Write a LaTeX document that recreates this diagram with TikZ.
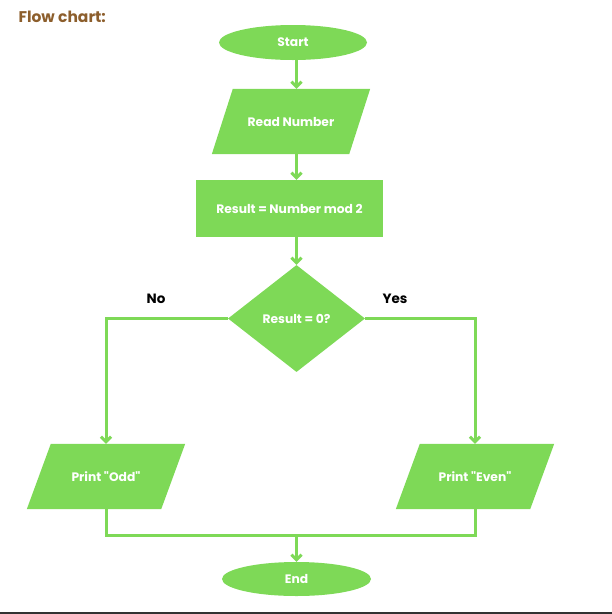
\documentclass[tikz,border=0pt]{standalone}
\usepackage{fontspec}
\setmainfont{Poppins}
\usetikzlibrary{shapes.geometric, arrows.meta, calc, backgrounds}

\definecolor{boxgreen}{RGB}{126,217,87}
\definecolor{titlebrown}{RGB}{140,94,44}
\definecolor{rulegray}{RGB}{51,51,51}

% fill a slanted box behind an io node
\newcommand{\slantfill}[2]{%
    \fill[boxgreen] ($(#1.north west)+(#2,0)$) -- ($(#1.north east)+(#2,0)$)
        -- ($(#1.south east)-(#2,0)$) -- ($(#1.south west)-(#2,0)$) -- cycle;}

\begin{document}
\begin{tikzpicture}[x=1pt, y=-1pt, line cap=butt]

    % let's define some key values
    \def\xline{296.5}
    \def\xodd{106}
    \def\xeven{475}
    \def\ybranch{318.5}
    \def\yprint{476.5}
    \def\ymerge{535}

    % Styles
    \tikzstyle{every node}=[font=\bfseries\fontsize{12.3}{14}\selectfont]
    \tikzstyle{terminal}=[ellipse, fill=boxgreen, text=white, inner sep=0pt,
        minimum width=148, minimum height=35]
    \tikzstyle{io}=[rectangle, text=white, inner sep=0pt,
        minimum width=137, minimum height=65]
    \tikzstyle{process}=[rectangle, fill=boxgreen, text=white, inner sep=0pt,
        minimum width=187, minimum height=57]
    \tikzstyle{decision}=[diamond, fill=boxgreen, text=white, inner sep=0pt,
        minimum width=137, minimum height=107]
    \tikzstyle{flow}=[draw=boxgreen, line width=3pt]
    \tikzstyle{flowarrow}=[flow, -{Straight Barb[length=5pt, width=10pt]}]

    \useasboundingbox (0,0) rectangle (612,614);

    % title
    \node[font=\bfseries\fontsize{15.5}{18}\selectfont, text=titlebrown,
        anchor=west] (title) at (15,17) {Flow chart:};

    % main column
    \node[terminal] (start) at (293,42.5) {Start};
    \node[io] (read) at (291,121.5) {Read Number};
    \node[process] (calc) at (289.5,208.5) {Result = Number mod 2};
    \node[decision] (test) at (\xline,\ybranch) {Result = 0?};

    % outputs
    \node[io, minimum width=134] (odd) at (\xodd,\yprint) {Print \textquotedbl Odd\textquotedbl};
    \node[io, minimum width=134] (even) at (\xeven,\yprint) {Print \textquotedbl Even\textquotedbl};

    % end
    \node[terminal, minimum width=149, minimum height=34] (end) at (\xline,579) {End};

    % slanted boxes
    \begin{scope}[on background layer]
        \slantfill{read}{10.5}
        \slantfill{odd}{12}
        \slantfill{even}{12}
    \end{scope}

    % branch labels
    \node[font=\bfseries\fontsize{13.5}{16}\selectfont] (no) at (156,299) {No};
    \node[font=\bfseries\fontsize{13.5}{16}\selectfont] (yes) at (395,299) {Yes};

    % where both outputs meet
    \coordinate (merge) at (\xline,\ymerge);

    % arrows down the main column
    \draw[flowarrow] (start.south -| merge) -- (read.north -| merge);
    \draw[flowarrow] (read.south -| merge) -- (calc.north -| merge);
    \draw[flowarrow] (calc.south -| merge) -- (test.north);

    % branches
    \draw[flowarrow] (test.west) -| (odd.north);
    \draw[flowarrow] (test.east) -| (even.north);

    % back together
    \draw[flow] (odd.south) |- (merge) -| (even.south);
    \draw[flowarrow] (merge) -- (end);

    % bottom rule
    \draw[rulegray, line width=1.5pt] (0,613) -- (612,613);

\end{tikzpicture}
\end{document}
